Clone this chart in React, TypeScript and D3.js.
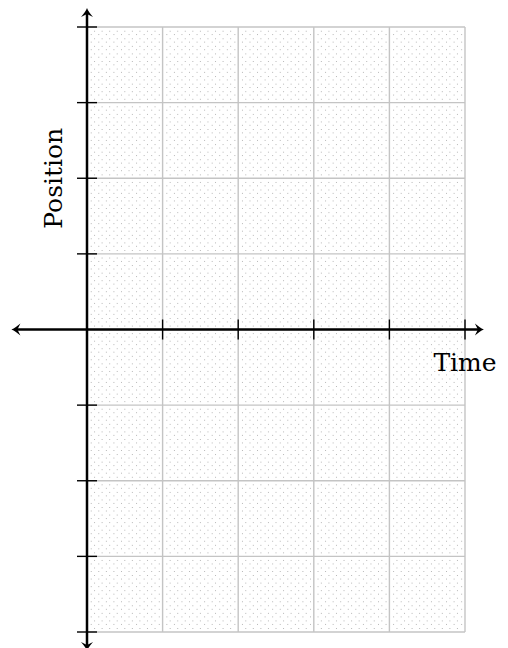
import React from "react";
import * as d3 from "d3";

// grid / tick values (in chart units, 1 unit = one major square)
const xTicks = [1, 2, 3, 4, 5];
const yTicks = [-4, -3, -2, -1, 1, 2, 3, 4];
const xGrid = [0, 1, 2, 3, 4, 5];
const yGrid = [-4, -3, -2, -1, 0, 1, 2, 3, 4];
const xLabel = "Time";
const yLabel = "Position";

const W = 508;
const H = 648;
const FONT = "DejaVu Serif";

const x = d3.scaleLinear().domain([0, 5]).range([87, 465]);
const y = d3.scaleLinear().domain([-4, 4]).range([632, 27]);

// arrow head drawn at (px,py) pointing in direction angle (deg)
const arrow = (px: number, py: number, angle: number) => (
  <path
    d="M0,0 C-3,-1 -6,-3.5 -9,-6 L-6,0 L-9,6 C-6,3.5 -3,1 0,0 Z"
    transform={`translate(${px},${py}) rotate(${angle})`}
    fill="#000"
  />
);

const App = () => {
  const minorX = d3.range(0, 50).map((i) => i / 10).filter((v) => Math.round(v * 10) % 10 !== 0);
  const minorY = d3.range(-40, 40).map((i) => i / 10).filter((v) => Math.round(v * 10) % 10 !== 0);

  const x0 = x(0);
  const y0 = y(0);
  const xLeft = x(-1);
  const xRight = x(5.25);
  const yTop = y(4.25);
  const yBottom = y(-4.25);
  const step = x(0.1) - x(0);

  return (
    <svg
      width={W}
      height={H}
      style={{ position: "fixed", left: 0, top: 0, background: "#fff" }}
    >
      {/* minor dotted grid */}
      <g stroke="#a8a8a8" strokeWidth={0.9} strokeDasharray={`0.9 ${step - 0.9}`}>
        {minorX.map((v) => (
          <line key={"mx" + v} x1={x(v)} x2={x(v)} y1={y(4) + step / 2} y2={y(-4)} />
        ))}
        {minorY.map((v) => (
          <line key={"my" + v} x1={x(0) + step / 2} x2={x(5)} y1={y(v)} y2={y(v)} />
        ))}
      </g>
      {/* major grid */}
      <g stroke="#c4c4c4" strokeWidth={1.4}>
        {xGrid.map((v) => (
          <line key={"gx" + v} x1={x(v)} x2={x(v)} y1={y(4)} y2={y(-4)} />
        ))}
        {yGrid.map((v) => (
          <line key={"gy" + v} x1={x(0)} x2={x(5)} y1={y(v)} y2={y(v)} />
        ))}
      </g>
      {/* ticks */}
      <g stroke="#000" strokeWidth={1.4}>
        {xTicks.map((v) => (
          <line key={"tx" + v} x1={x(v)} x2={x(v)} y1={y0 - 10} y2={y0 + 10} />
        ))}
        {yTicks.map((v) => (
          <line key={"ty" + v} x1={x0 - 10} x2={x0 + 10} y1={y(v)} y2={y(v)} />
        ))}
      </g>
      {/* axes */}
      <g stroke="#000" strokeWidth={2.5}>
        <line x1={xLeft + 4} x2={xRight - 4} y1={y0} y2={y0} />
        <line x1={x0} x2={x0} y1={yTop + 4} y2={yBottom - 4} />
      </g>
      {arrow(xRight, y0, 0)}
      {arrow(xLeft, y0, 180)}
      {arrow(x0, yTop, -90)}
      {arrow(x0, yBottom, 90)}
      {/* labels */}
      <text
        x={x(5)}
        y={371}
        textAnchor="middle"
        fontFamily={FONT}
        fontSize={25}
        fill="#000"
      >
        {xLabel}
      </text>
      <text
        transform={`translate(61.5, ${y(2)}) rotate(-90)`}
        textAnchor="middle"
        fontFamily={FONT}
        fontSize={25}
        fill="#000"
      >
        {yLabel}
      </text>
    </svg>
  );
};

export default App;
